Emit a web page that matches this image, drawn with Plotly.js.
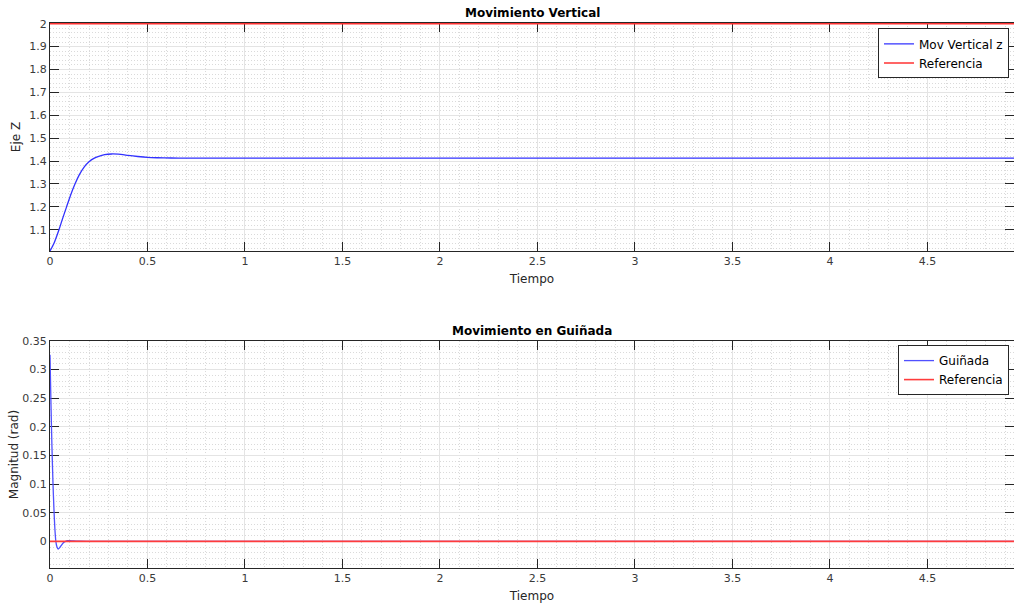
<!DOCTYPE html>
<html>
<head>
<meta charset="utf-8">
<script src="https://cdn.plot.ly/plotly-3.0.1.min.js"></script>
<style>html,body{margin:0;padding:0;background:#fff;}#chart{width:1014px;height:607px;}</style>
</head>
<body>
<div id="chart"></div>
<script>
// Top subplot: vertical movement
const tVert = [0, 0.02, 0.046, 0.065, 0.085, 0.105, 0.128, 0.15, 0.175, 0.20, 0.225, 0.25, 0.28, 0.316, 0.35, 0.40, 0.45, 0.50, 0.55, 0.62, 0.70, 0.80, 1.0, 2.0, 3.0, 4.0, 4.95];
const zVert = [1.0075, 1.04, 1.10, 1.15, 1.20, 1.25, 1.30, 1.34, 1.374, 1.397, 1.412, 1.421, 1.428, 1.431, 1.430, 1.425, 1.420, 1.416, 1.4145, 1.4135, 1.4132, 1.4132, 1.4132, 1.4132, 1.4132, 1.4132, 1.4132];
const tRefVert = [0, 4.95];
const zRefVert = [2, 2];

// Bottom subplot: yaw movement
const tYaw = [0, 0.005, 0.01, 0.015, 0.02, 0.025, 0.03, 0.035, 0.042, 0.05, 0.06, 0.07, 0.08, 0.09, 0.10, 0.12, 0.15, 0.2, 1.0, 2.0, 3.0, 4.0, 4.95];
const yaw = [0.326, 0.24, 0.165, 0.105, 0.058, 0.022, 0.0, -0.009, -0.0135, -0.011, -0.006, -0.002, 0.0, 0.001, 0.0012, 0.0006, 0.0001, 0, 0, 0, 0, 0, 0];
const tRefYaw = [0, 4.95];
const yawRef = [0, 0];

const names = {vert: 'Mov Vertical z', yaw: 'Guiñada', ref: 'Referencia'};
const titles = ['Movimiento Vertical', 'Movimiento en Guiñada'];

const FONT = 'DejaVu Sans, Liberation Sans, sans-serif';
const TXT = '#262626';
const TICKTXT = '#3a3a3a';
const GRID = '#e4e4e4';
const MINOR = '#dadada';

const traces = [
  {x: tVert, y: zVert, type: 'scatter', mode: 'lines', name: names.vert,
   line: {color: 'rgb(50,50,255)', width: 1.3, shape: 'spline', smoothing: 0.6}, xaxis: 'x', yaxis: 'y', legend: 'legend'},
  {x: tRefVert, y: zRefVert, type: 'scatter', mode: 'lines', name: names.ref,
   line: {color: 'rgb(255,50,50)', width: 1.6}, xaxis: 'x', yaxis: 'y', legend: 'legend'},
  {x: tYaw, y: yaw, type: 'scatter', mode: 'lines', name: names.yaw,
   line: {shape: 'spline', smoothing: 0.6, color: 'rgb(80,80,255)', width: 1.3},
   xaxis: 'x2', yaxis: 'y2', legend: 'legend2'},
  {x: tRefYaw, y: yawRef, type: 'scatter', mode: 'lines', name: names.ref,
   line: {color: 'rgb(255,60,60)', width: 1.6}, xaxis: 'x2', yaxis: 'y2', legend: 'legend2'}
];

function xax(anchor) {
  return {
    anchor: anchor, domain: [0, 1], range: [0, 4.944], dtick: 0.5, tick0: 0,
    ticks: 'inside', ticklen: 9, tickcolor: TXT, tickwidth: 1, layer: 'below traces',
    showline: true, linecolor: TXT, linewidth: 1, mirror: 'ticks',
    showgrid: true, gridcolor: GRID, gridwidth: 1, zeroline: false,
    minor: {dtick: 0.1, showgrid: true, gridcolor: MINOR, griddash: '1px,2px', gridwidth: 1},
    tickfont: {family: FONT, size: 11, color: TICKTXT},
    title: {text: 'Tiempo', font: {family: FONT, size: 12, color: TXT}, standoff: 7}
  };
}

const layout = {
  width: 1014, height: 607,
  margin: {l: 50, r: 0, t: 23, b: 39},
  paper_bgcolor: '#ffffff', plot_bgcolor: '#ffffff',
  showlegend: true,
  xaxis: xax('y'),
  xaxis2: xax('y2'),
  yaxis: {
    anchor: 'x', domain: [0.5817, 1], range: [1.0075, 2.003], dtick: 0.1, tick0: 1,
    ticks: 'inside', ticklen: 9, tickcolor: TXT, tickwidth: 1, layer: 'below traces',
    showline: true, linecolor: TXT, linewidth: 1, mirror: 'ticks',
    showgrid: true, gridcolor: GRID, zeroline: false,
    minor: {dtick: 0.02, showgrid: true, gridcolor: MINOR, griddash: '1px,2px', gridwidth: 1},
    tickfont: {family: FONT, size: 11, color: TICKTXT},
    title: {text: 'Eje Z', font: {family: FONT, size: 12, color: TXT}, standoff: 6}
  },
  yaxis2: {
    anchor: 'x2', domain: [0, 0.4165], range: [-0.0466, 0.35], dtick: 0.05, tick0: 0,
    ticks: 'inside', ticklen: 9, tickcolor: TXT, tickwidth: 1, layer: 'below traces',
    showline: true, linecolor: TXT, linewidth: 1, mirror: 'ticks',
    showgrid: true, gridcolor: GRID, zeroline: false,
    minor: {dtick: 0.01, showgrid: true, gridcolor: MINOR, griddash: '1px,2px', gridwidth: 1},
    tickfont: {family: FONT, size: 11, color: TICKTXT},
    title: {text: 'Magnitud (rad)', font: {family: FONT, size: 12, color: TXT}, standoff: 1}
  },
  legend: {x: 0.9948, xanchor: 'right', y: 0.99, yanchor: 'top', bgcolor: '#ffffff',
    bordercolor: TXT, borderwidth: 1, font: {family: FONT, size: 12, color: '#000'},
    tracegroupgap: 0, itemwidth: 30},
  legend2: {x: 0.9948, xanchor: 'right', y: 0.409, yanchor: 'top', bgcolor: '#ffffff',
    bordercolor: TXT, borderwidth: 1, font: {family: FONT, size: 12, color: '#000'},
    tracegroupgap: 0, itemwidth: 30},
  annotations: [
    {text: '<b>' + titles[0] + '</b>', xref: 'paper', yref: 'paper', x: 0.5, y: 1, xanchor: 'center', yanchor: 'bottom', yshift: 1, showarrow: false,
     font: {family: FONT, size: 12, color: '#000'}},
    {text: '<b>' + titles[1] + '</b>', xref: 'paper', yref: 'paper', x: 0.5, y: 0.4165, xanchor: 'center', yanchor: 'bottom', yshift: 1, showarrow: false,
     font: {family: FONT, size: 12, color: '#000'}}
  ]
};

Plotly.newPlot('chart', traces, layout, {displayModeBar: false, staticPlot: true});
</script>
</body>
</html>
